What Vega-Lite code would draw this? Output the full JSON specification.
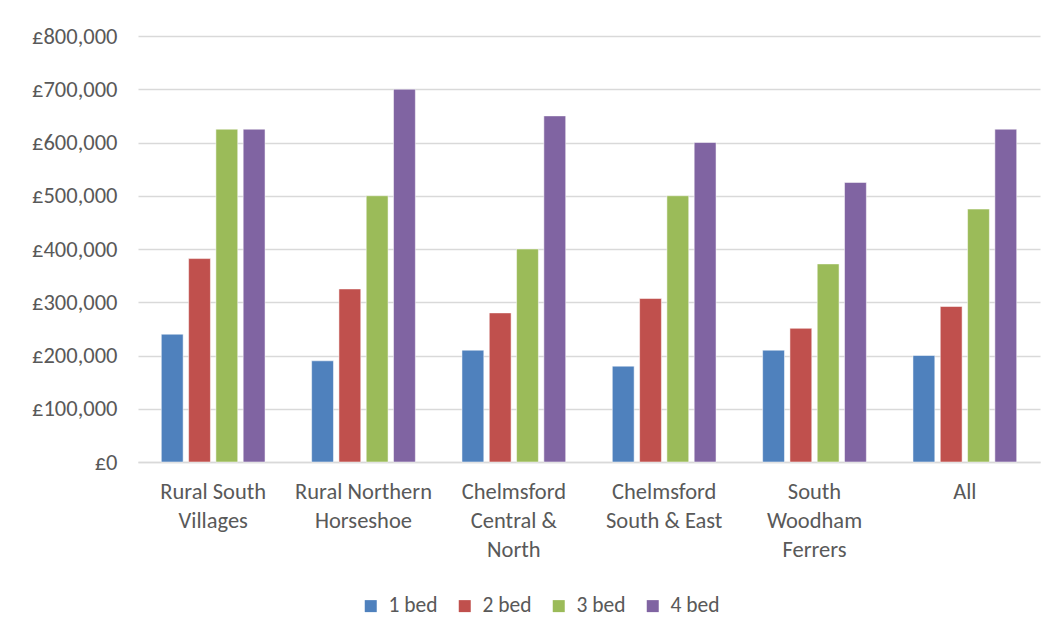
{
  "$schema": "https://vega.github.io/schema/vega-lite/v6.json",
  "width": 902,
  "height": 426,
  "autosize": {"type": "none"},
  "padding": {"left": 138, "top": 36, "right": 23, "bottom": 177},
  "background": "white",
  "config": {
    "font": "Carlito, Lato, sans-serif",
    "view": {"stroke": null},
    "axis": {"labelColor": "#595959", "labelFont": "Carlito, Lato, sans-serif", "labelFontSize": 22.5},
    "legend": {"labelColor": "#595959", "labelFont": "Carlito, Lato, sans-serif", "labelFontSize": 21.5}
  },
  "data": {
    "values": [
      {"area": "Rural South Villages", "beds": "1 bed", "price": 240000},
      {"area": "Rural South Villages", "beds": "2 bed", "price": 382000},
      {"area": "Rural South Villages", "beds": "3 bed", "price": 625000},
      {"area": "Rural South Villages", "beds": "4 bed", "price": 625000},
      {"area": "Rural Northern Horseshoe", "beds": "1 bed", "price": 190000},
      {"area": "Rural Northern Horseshoe", "beds": "2 bed", "price": 325000},
      {"area": "Rural Northern Horseshoe", "beds": "3 bed", "price": 500000},
      {"area": "Rural Northern Horseshoe", "beds": "4 bed", "price": 700000},
      {"area": "Chelmsford Central & North", "beds": "1 bed", "price": 210000},
      {"area": "Chelmsford Central & North", "beds": "2 bed", "price": 280000},
      {"area": "Chelmsford Central & North", "beds": "3 bed", "price": 400000},
      {"area": "Chelmsford Central & North", "beds": "4 bed", "price": 650000},
      {"area": "Chelmsford South & East", "beds": "1 bed", "price": 180000},
      {"area": "Chelmsford South & East", "beds": "2 bed", "price": 307000},
      {"area": "Chelmsford South & East", "beds": "3 bed", "price": 500000},
      {"area": "Chelmsford South & East", "beds": "4 bed", "price": 600000},
      {"area": "South Woodham Ferrers", "beds": "1 bed", "price": 210000},
      {"area": "South Woodham Ferrers", "beds": "2 bed", "price": 251000},
      {"area": "South Woodham Ferrers", "beds": "3 bed", "price": 372000},
      {"area": "South Woodham Ferrers", "beds": "4 bed", "price": 525000},
      {"area": "All", "beds": "1 bed", "price": 200000},
      {"area": "All", "beds": "2 bed", "price": 292000},
      {"area": "All", "beds": "3 bed", "price": 475000},
      {"area": "All", "beds": "4 bed", "price": 625000}
    ]
  },
  "mark": {"type": "bar", "stroke": "white", "strokeOpacity": 0.5, "strokeWidth": 1},
  "encoding": {
    "x": {
      "field": "area",
      "type": "nominal",
      "sort": null,
      "title": null,
      "scale": {"paddingInner": 0.31, "paddingOuter": 0.155},
      "axis": {
        "labelAngle": 0,
        "ticks": false,
        "domainColor": "#D9D9D9",
        "domainWidth": 1.5,
        "labelPadding": 18,
        "labelLineHeight": 29,
        "labelBaseline": "top",
        "labelExpr": "datum.label == 'Rural South Villages' ? ['Rural South', 'Villages'] : datum.label == 'Rural Northern Horseshoe' ? ['Rural Northern', 'Horseshoe'] : datum.label == 'Chelmsford Central & North' ? ['Chelmsford', 'Central &', 'North'] : datum.label == 'Chelmsford South & East' ? ['Chelmsford', 'South & East'] : datum.label == 'South Woodham Ferrers' ? ['South', 'Woodham', 'Ferrers'] : datum.label"
      }
    },
    "xOffset": {"field": "beds", "type": "nominal", "scale": {"paddingInner": 0.2}},
    "y": {
      "field": "price",
      "type": "quantitative",
      "title": null,
      "scale": {"domain": [0, 800000]},
      "axis": {
        "values": [0, 100000, 200000, 300000, 400000, 500000, 600000, 700000, 800000],
        "labelExpr": "'£' + format(datum.value, ',')",
        "domain": false,
        "ticks": false,
        "labelPadding": 21,
        "gridColor": "#D9D9D9",
        "gridWidth": 1.5
      }
    },
    "color": {
      "field": "beds",
      "type": "nominal",
      "title": null,
      "scale": {"domain": ["1 bed", "2 bed", "3 bed", "4 bed"], "range": ["#4F81BD", "#C0504D", "#9BBB59", "#8064A2"]},
      "legend": {
        "orient": "none",
        "direction": "horizontal",
        "legendX": 222,
        "legendY": 559,
        "symbolType": "square",
        "symbolSize": 144,
        "symbolStrokeWidth": 0,
        "columnPadding": 16,
        "labelOffset": 7
      }
    }
  }
}
